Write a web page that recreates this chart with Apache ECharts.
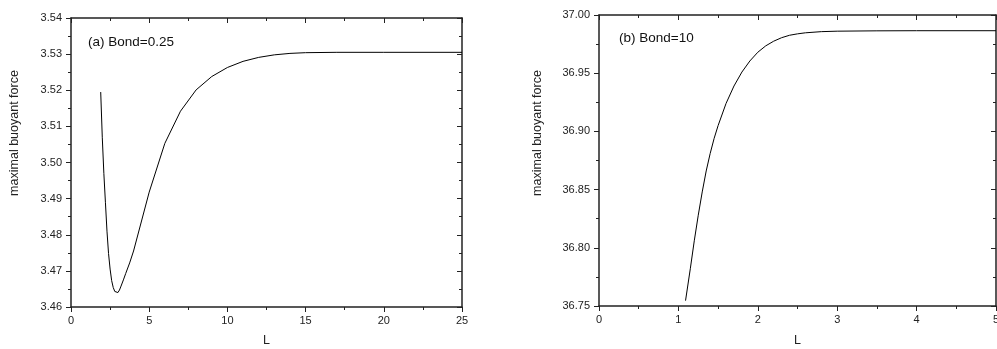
<!DOCTYPE html>
<html><head><meta charset="utf-8">
<script src="https://cdn.jsdelivr.net/npm/echarts@6/dist/echarts.min.js"></script>
<style>html,body{margin:0;padding:0;background:#fff}#c{width:997px;height:349px}</style>
</head><body><div id="c"></div>
<script>
// Panel (a) Bond=0.25
const L_a = [1.9,2.0,2.1,2.2,2.3,2.4,2.5,2.6,2.7,2.8,2.9,3.0,3.1,3.2,3.35,3.5,3.75,4.0,5.0,6.0,7.0,8.0,9.0,10,11,12,13,14,15,17,20,25];
const F_a = [3.5195,3.507,3.497,3.489,3.481,3.4748,3.4705,3.4673,3.4654,3.4643,3.4638,3.4640,3.4647,3.4658,3.4675,3.4693,3.4722,3.4755,3.4918,3.5053,3.5142,3.5201,3.5238,3.5263,3.5280,3.5291,3.5298,3.5302,3.5304,3.5305,3.5305,3.5305];
// Panel (b) Bond=10
const L_b = [1.09,1.15,1.2,1.25,1.3,1.35,1.4,1.45,1.5,1.6,1.7,1.8,1.9,2.0,2.1,2.2,2.3,2.4,2.5,2.6,2.8,3.0,3.5,4,5];
const F_b = [36.7546,36.782,36.806,36.828,36.848,36.866,36.881,36.894,36.905,36.924,36.939,36.951,36.9605,36.968,36.9735,36.9775,36.9805,36.9826,36.9838,36.9847,36.9857,36.9861,36.9864,36.9865,36.9865];
const labelA = "(a) Bond=0.25";
const labelB = "(b) Bond=10";
const yName = "maximal buoyant force";
const xName = "L";

const font = "Liberation Sans, Arial, sans-serif";
const axCol = "#222";
const lbl = {color:'#222',fontSize:11,fontFamily:font};
function baseAxis(extra){
  return Object.assign({
    type:'value',
    axisLine:{show:true,onZero:false,lineStyle:{color:axCol,width:1.5}},
    axisTick:{show:true,length:5,lineStyle:{color:axCol}},
    minorTick:{show:true,splitNumber:2,length:3,lineStyle:{color:axCol}},
    splitLine:{show:false},
    axisLabel:lbl,
    nameTextStyle:{color:'#222',fontSize:12.5,fontFamily:font}
  }, extra);
}
function mirror(extra){
  return baseAxis(Object.assign({axisLabel:{show:false},axisTick:{show:true,inside:true,length:5,lineStyle:{color:axCol}}}, extra));
}
const chart = echarts.init(document.getElementById('c'));
chart.setOption({
  animation:false,
  grid:[
    {left:71,top:18,width:391,height:289,containLabel:false,outerBoundsMode:'none'},
    {left:599,top:15,width:397,height:291,containLabel:false,outerBoundsMode:'none'}
  ],
  xAxis:[
    baseAxis({gridIndex:0,min:0,max:25,interval:5,name:xName,nameLocation:'middle',nameGap:27,axisLabel:Object.assign({margin:8},lbl)}),
    mirror({gridIndex:0,position:'top',min:0,max:25,interval:5}),
    baseAxis({gridIndex:1,min:0,max:5,interval:1,name:xName,nameLocation:'middle',nameGap:28,axisLabel:Object.assign({margin:8},lbl)}),
    mirror({gridIndex:1,position:'top',min:0,max:5,interval:1})
  ],
  yAxis:[
    baseAxis({gridIndex:0,min:3.46,max:3.54,interval:0.01,axisLabel:Object.assign({formatter:v=>v.toFixed(2),margin:9},lbl)}),
    mirror({gridIndex:0,position:'right',min:3.46,max:3.54,interval:0.01}),
    baseAxis({gridIndex:1,min:36.75,max:37.0,interval:0.05,axisLabel:Object.assign({formatter:v=>v.toFixed(2),margin:9},lbl)}),
    mirror({gridIndex:1,position:'right',min:36.75,max:37.0,interval:0.05})
  ],
  series:[
    {type:'line',xAxisIndex:0,yAxisIndex:0,data:L_a.map((x,i)=>[x,F_a[i]]),showSymbol:false,smooth:false,lineStyle:{color:'#000',width:1}},
    {type:'line',xAxisIndex:2,yAxisIndex:2,data:L_b.map((x,i)=>[x,F_b[i]]),showSymbol:false,smooth:false,lineStyle:{color:'#000',width:1}}
  ],
  graphic:[
    {type:'text',left:88,top:35,style:{text:labelA,fill:'#111',font:'13.5px '+font}},
    {type:'text',left:619,top:31,style:{text:labelB,fill:'#111',font:'13.5px '+font}},
    {type:'text',x:14.5,y:133,rotation:Math.PI/2,style:{text:yName,fill:'#222',font:'12.5px '+font,align:'center',verticalAlign:'middle'}},
    {type:'text',x:537.5,y:133,rotation:Math.PI/2,style:{text:yName,fill:'#222',font:'12.5px '+font,align:'center',verticalAlign:'middle'}}
  ]
});
</script></body></html>
